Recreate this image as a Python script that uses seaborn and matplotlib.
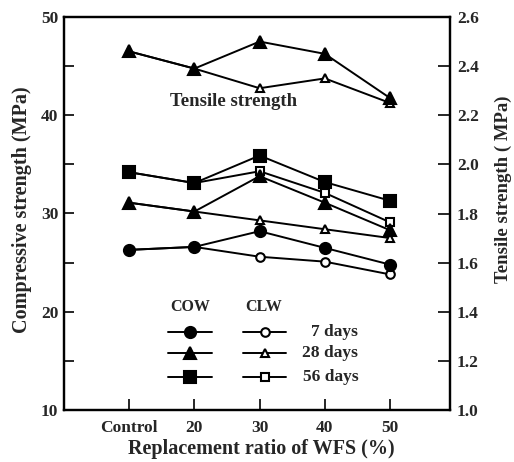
import matplotlib
matplotlib.use("Agg")
import matplotlib.pyplot as plt
import seaborn as sns
from matplotlib.lines import Line2D
from matplotlib.ticker import MultipleLocator, FormatStrFormatter

# Replacement ratio categories and their positions on the x axis
categories = ["Control", "20", "30", "40", "50"]
positions = [10, 20, 30, 40, 50]

# Compressive strength (MPa)
cow_7 = [26.3, 26.6, 28.2, 26.5, 24.8]
clw_7 = [26.3, 26.6, 25.6, 25.1, 23.8]
cow_28 = [31.1, 30.2, 33.8, 31.1, 28.3]
clw_28 = [31.1, 30.2, 29.3, 28.4, 27.5]
cow_56 = [34.2, 33.1, 35.9, 33.2, 31.3]
clw_56 = [34.2, 33.1, 34.3, 32.1, 29.1]

# Tensile strength (MPa)
cow_tensile = [2.46, 2.39, 2.50, 2.45, 2.27]
clw_tensile = [2.46, 2.39, 2.31, 2.35, 2.25]

sns.set_style("ticks")
plt.rcParams["font.family"] = ["Liberation Serif", "DejaVu Serif"]
plt.rcParams["font.weight"] = "bold"
plt.rcParams["axes.labelweight"] = "bold"

fig = plt.figure(figsize=(5.14, 4.62), dpi=100)
ax = fig.add_axes([64 / 514, 52 / 462, 386 / 514, 393 / 462])
ax2 = ax.twinx()

LW = 1.4
MS_FILLED = 8.0
MS_OPEN = 6.2
MEW = 1.5


def draw(axis, values, marker, filled):
    sns.lineplot(
        x=positions, y=values, ax=axis, color="black", linewidth=LW,
        marker=marker,
        markersize=MS_FILLED if filled else MS_OPEN,
        markerfacecolor="black" if filled else "white",
        markeredgecolor="black", markeredgewidth=MEW,
        legend=False,
    )


# open symbols first so the filled ones sit on top where they coincide
for vals, mk in [(clw_7, "o"), (clw_28, "^"), (clw_56, "s")]:
    draw(ax, vals, mk, False)
for vals, mk in [(cow_7, "o"), (cow_28, "^"), (cow_56, "s")]:
    draw(ax, vals, mk, True)

draw(ax2, clw_tensile, "^", False)
draw(ax2, cow_tensile, "^", True)

# axes limits and ticks
ax.set_xlim(0, 59.2)
ax.set_ylim(10, 50)
ax2.set_ylim(1.0, 2.6)
ax.set_xticks(positions)
ax.set_xticklabels(categories)
ax.yaxis.set_major_locator(MultipleLocator(10))
ax.yaxis.set_minor_locator(MultipleLocator(5))
ax2.yaxis.set_major_locator(MultipleLocator(0.2))
ax2.yaxis.set_major_formatter(FormatStrFormatter("%.1f"))

ax.tick_params(axis="x", direction="in", length=8, width=1.4, labelsize=12.5,
               pad=7, top=False, bottom=True)
ax.tick_params(axis="y", which="both", direction="in", length=7, width=1.4,
               labelsize=12.5, pad=4, left=True, right=False)
ax2.tick_params(axis="y", direction="in", length=9, width=1.4, labelsize=12.5,
                pad=5, right=True, left=False)
ax2.tick_params(axis="x", top=False, bottom=False)

for a in (ax, ax2):
    for sp in a.spines.values():
        sp.set_linewidth(1.6)
        sp.set_color("black")
        sp.set_visible(True)

ax.set_xlabel("Replacement ratio of WFS (%)", fontsize=14.5, fontweight="bold")
ax.xaxis.set_label_coords(0.51, -0.075)
ax.set_ylabel("Compressive strength (MPa)", fontsize=14.5, fontweight="bold")
ax.yaxis.set_label_coords(-0.083, 0.509)
ax2.set_ylabel("Tensile strength ( MPa)", fontsize=13.5, fontweight="bold")
ax2.yaxis.set_label_coords(1.117, 0.562)

ax.text(0.44, 0.785, "Tensile strength", transform=ax.transAxes,
        ha="center", va="center", fontsize=13.5, fontweight="bold")

# hand-built key: two symbol columns and one label column
ax.text(0.326, 0.262, "COW", transform=ax.transAxes, ha="center",
        va="center", fontsize=11.5, fontweight="bold")
ax.text(0.516, 0.262, "CLW", transform=ax.transAxes, ha="center",
        va="center", fontsize=11.5, fontweight="bold")
rows = [("o", "7 days", 0.198), ("^", "28 days", 0.145), ("s", "56 days", 0.084)]
for mk, label, yy in rows:
    for x0, x1, filled in [(0.269, 0.383, True), (0.464, 0.575, False)]:
        ax.add_line(Line2D([x0, x1], [yy, yy], transform=ax.transAxes,
                           color="black", linewidth=LW))
        ax.add_line(Line2D([(x0 + x1) / 2], [yy], transform=ax.transAxes,
                           marker=mk, linestyle="none",
                           markersize=MS_FILLED if filled else MS_OPEN,
                           markerfacecolor="black" if filled else "white",
                           markeredgecolor="black", markeredgewidth=MEW))
    ax.text(0.762, yy, label, transform=ax.transAxes, ha="right",
            va="center", fontsize=12.5, fontweight="bold")

fig.savefig("out.png", dpi=100)
